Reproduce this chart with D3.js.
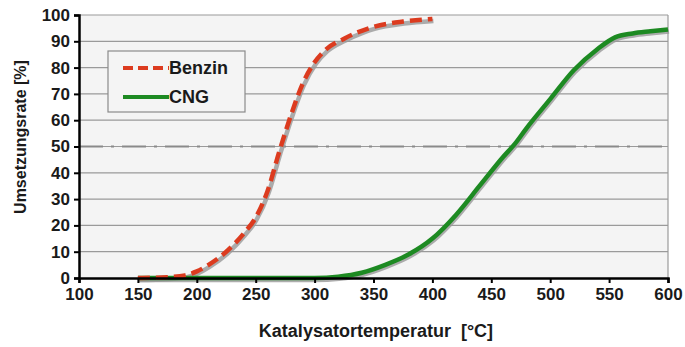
<!DOCTYPE html>
<html>
<head>
<meta charset="utf-8">
<style>
body { margin: 0; background: #fff; }
text { font-family: "Liberation Sans", Arial, sans-serif; font-weight: bold; fill: #1a1a1a; }
</style>
</head>
<body>
<svg width="685" height="347"></svg>
<script src="https://d3js.org/d3.v7.min.js"></script>
<script>
// curve values
var benzinTemp = [150, 175, 190, 200, 210, 225, 240, 250, 260, 270, 280, 290, 300, 310, 325, 340, 350, 375, 400];
var benzinRate = [0, 0.3, 1, 2.5, 5, 10, 17, 23, 33, 48, 62, 74, 82, 87, 91, 94, 95.5, 97.5, 98.5];
var cngTemp = [150, 200, 250, 300, 320, 340, 360, 380, 400, 420, 440, 460, 470, 480, 500, 520, 540, 555, 570, 585, 600];
var cngRate = [0, 0, 0, 0, 0.5, 2, 5, 9, 15, 24, 35, 46, 51, 57, 68, 79, 87, 91.5, 93, 93.8, 94.5];
var xTicks = [100, 150, 200, 250, 300, 350, 400, 450, 500, 550, 600];
var yTicks = [0, 10, 20, 30, 40, 50, 60, 70, 80, 90, 100];
var refLine = 50;

var svg = d3.select("svg"),
    margin = {top: 15, right: 17, bottom: 69, left: 79},
    width = +svg.attr("width") - margin.left - margin.right,
    height = +svg.attr("height") - margin.top - margin.bottom;

var x = d3.scaleLinear().domain([100, 600]).range([0, width]),
    y = d3.scaleLinear().domain([0, 100]).range([height, 0]);

var g = svg.append("g")
    .attr("transform", "translate(" + margin.left + "," + margin.top + ")");

g.append("rect")
    .attr("width", width).attr("height", height)
    .attr("fill", "#f4f4f4");

// gridlines
g.selectAll(".grid")
  .data(yTicks.slice(1))
  .enter().append("line")
    .attr("x1", 0).attr("x2", width)
    .attr("y1", function(d) { return y(d); })
    .attr("y2", function(d) { return y(d); })
    .attr("stroke", "#9a9a9a").attr("stroke-width", 1.2);

g.append("line")
    .attr("x1", width).attr("x2", width).attr("y1", 0).attr("y2", height)
    .attr("stroke", "#9a9a9a").attr("stroke-width", 1.2);

// 50 % reference
g.append("line")
    .attr("x1", 0).attr("x2", width)
    .attr("y1", y(refLine)).attr("y2", y(refLine))
    .attr("stroke", "#8a8a8a").attr("stroke-width", 2.2)
    .attr("stroke-dasharray", "24,8,3,8");

var line = d3.line()
    .x(function(d) { return x(d[0]); })
    .y(function(d) { return y(d[1]); })
    .curve(d3.curveMonotoneX);

var benzin = d3.zip(benzinTemp, benzinRate),
    cng = d3.zip(cngTemp, cngRate);

// shadows
[benzin, cng].forEach(function(s) {
  g.append("path").datum(s)
    .attr("d", line)
    .attr("transform", "translate(1,2)")
    .attr("fill", "none")
    .attr("stroke", "#999").attr("stroke-opacity", 0.8)
    .attr("stroke-width", 4.5);
});

g.append("path").datum(cng)
    .attr("d", line)
    .attr("fill", "none")
    .attr("stroke", "#1d8a22").attr("stroke-width", 4.5);

g.append("path").datum(benzin)
    .attr("d", line)
    .attr("fill", "none")
    .attr("stroke", "#dc3b1f").attr("stroke-width", 4.5)
    .attr("stroke-dasharray", "12,6");

// axes
var xAxis = g.append("g")
    .attr("transform", "translate(0," + height + ")")
    .call(d3.axisBottom(x).tickValues(xTicks).tickSize(5).tickPadding(5));
var yAxis = g.append("g")
    .call(d3.axisLeft(y).tickValues(yTicks).tickSize(5).tickPadding(4));

[xAxis, yAxis].forEach(function(a) {
  a.select(".domain").attr("stroke", "#000").attr("stroke-width", 2.5);
  a.selectAll(".tick line").attr("stroke", "#000").attr("stroke-width", 2);
  a.selectAll(".tick text")
    .attr("font-family", "Liberation Sans, Arial, sans-serif")
    .attr("font-weight", "bold").attr("font-size", 17).attr("fill", "#1a1a1a");
});

// legend
var leg = g.append("g").attr("transform", "translate(" + (108 - margin.left) + "," + (51 - margin.top) + ")");
leg.append("rect")
    .attr("width", 137).attr("height", 61)
    .attr("fill", "#f4f4f4").attr("stroke", "#8a8a8a").attr("stroke-width", 1.2);
leg.append("line")
    .attr("x1", 15).attr("x2", 61).attr("y1", 17).attr("y2", 17)
    .attr("stroke", "#dc3b1f").attr("stroke-width", 4).attr("stroke-dasharray", "10,5");
leg.append("text").attr("x", 61).attr("y", 23).attr("font-size", 18).text("Benzin");
leg.append("line")
    .attr("x1", 15).attr("x2", 61).attr("y1", 46).attr("y2", 46)
    .attr("stroke", "#1d8a22").attr("stroke-width", 4);
leg.append("text").attr("x", 61).attr("y", 52).attr("font-size", 18).text("CNG");

// axis titles
svg.append("text")
    .attr("x", 376).attr("y", 337)
    .attr("text-anchor", "middle").attr("font-size", 18)
    .attr("xml:space", "preserve")
    .text("Katalysatortemperatur  [°C]");
svg.append("text")
    .attr("transform", "translate(26,137) rotate(-90)")
    .attr("text-anchor", "middle").attr("font-size", 16)
    .text("Umsetzungsrate [%]");
</script>
</body>
</html>
